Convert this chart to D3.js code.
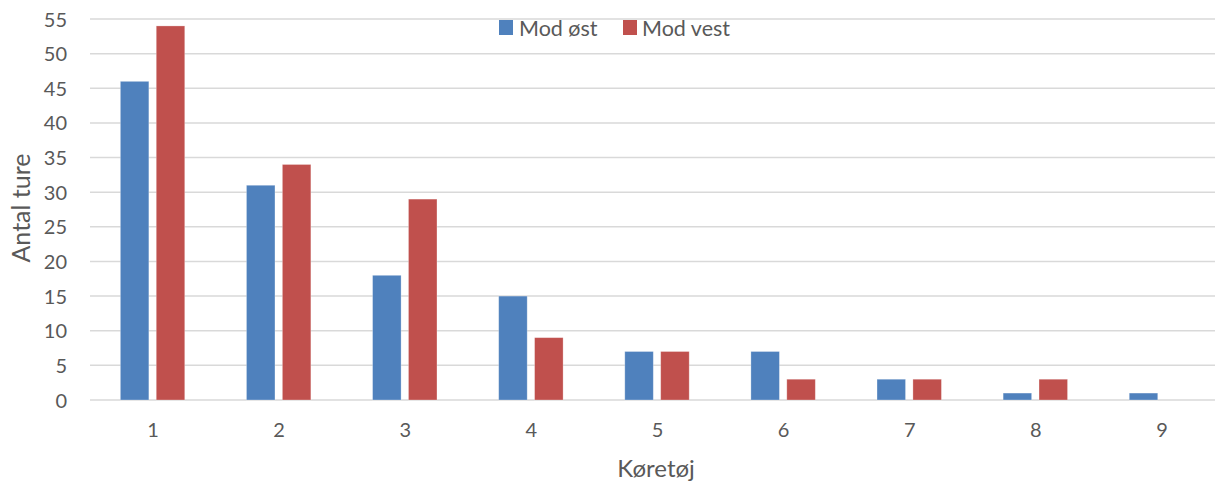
<!DOCTYPE html>
<html><head><meta charset="utf-8">
<script src="https://cdn.jsdelivr.net/npm/d3@7"></script>
<style>body{margin:0;background:#fff}svg{display:block}text{font-family:Lato,"Open Sans",sans-serif;fill:#595959}</style>
</head><body>
<script>
const categories = ["1","2","3","4","5","6","7","8","9"];
const seriesNames = ["Mod øst","Mod vest"];
const modOest = [46,31,18,15,7,7,3,1,1];
const modVest = [54,34,29,9,7,3,3,3,0];
const yTicks = [0,5,10,15,20,25,30,35,40,45,50,55];
const colors = ["#4F81BD","#C0504D"];

const W=1215,H=481;
const svg=d3.select("body").append("svg").attr("width",W).attr("height",H);
const x=d3.scaleBand().domain(categories).range([90,1225]);
const y=d3.scaleLinear().domain([0,55]).range([400,19]);
const sub=d3.scaleBand().domain(seriesNames).range([-32.7,31.7]).paddingInner(0.206);

svg.append("g").selectAll("line").data(yTicks).join("line")
  .attr("x1",90).attr("x2",W).attr("y1",d=>y(d)).attr("y2",d=>y(d))
  .attr("stroke","#d9d9d9").attr("stroke-width",1.5);

const yAxis=d3.axisLeft(y).tickValues(yTicks).tickSize(0).tickPadding(0);
const gy=svg.append("g").attr("transform","translate(67,0)").call(yAxis);
gy.select(".domain").remove();
gy.selectAll("text").style("font-size","20px").attr("fill","#595959").attr("dy","0.35em");

const xAxis=d3.axisBottom(x).tickSize(0).tickPadding(0);
const gx=svg.append("g").attr("transform","translate(0,423)").call(xAxis);
gx.select(".domain").remove();
gx.selectAll("text").style("font-size","20px").attr("fill","#595959");

const data=[modOest,modVest];
data.forEach((vals,si)=>{
  svg.append("g").selectAll("rect").data(vals).join("rect")
    .attr("x",(d,i)=>x(categories[i])+x.bandwidth()/2+sub(seriesNames[si]))
    .attr("width",sub.bandwidth())
    .attr("y",d=>y(d)).attr("height",d=>y(0)-y(d))
    .attr("fill",colors[si]).attr("stroke","#ffffff").attr("stroke-opacity",0.35).attr("stroke-width",0.8);
});

const leg=[{x:499,tx:519},{x:623,tx:642}];
seriesNames.forEach((n,i)=>{
  svg.append("rect").attr("x",leg[i].x).attr("y",20).attr("width",14).attr("height",15).attr("fill",colors[i]);
  svg.append("text").attr("x",leg[i].tx).attr("y",28).attr("dy","0.35em").style("font-size","21.5px").text(n);
});

svg.append("text").attr("transform","translate(21,208) rotate(-90)").attr("text-anchor","middle")
  .attr("dy","0.35em").style("font-size","25px").text("Antal ture");
svg.append("text").attr("x",656).attr("y",469).attr("text-anchor","middle")
  .attr("dy","0.35em").style("font-size","24px").text("Køretøj");
</script>
</body></html>
